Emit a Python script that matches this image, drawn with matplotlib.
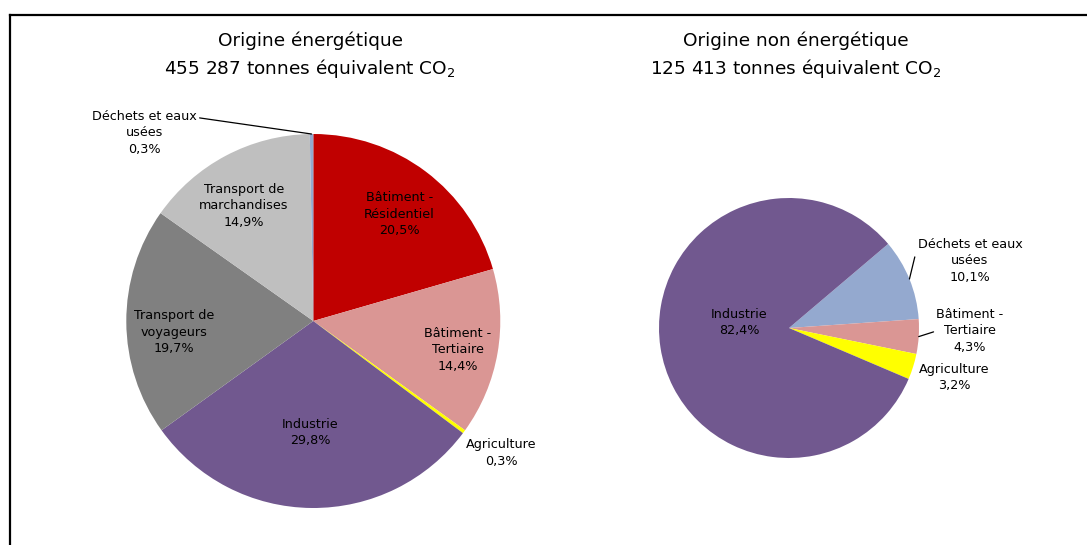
import numpy as np
import matplotlib.pyplot as plt
import matplotlib as mpl
from matplotlib.lines import Line2D

mpl.rcParams["font.family"] = ["DejaVu Sans"]
FONT_SMALL = 9.2
FONT_BIG = 13.3

# --- data -------------------------------------------------------------
energy_labels = [
    "Bâtiment -\nRésidentiel",
    "Bâtiment -\nTertiaire",
    "Agriculture",
    "Industrie",
    "Transport de\nvoyageurs",
    "Transport de\nmarchandises",
    "Déchets et eaux\nusées",
]
energy_share = [20.5, 14.4, 0.3, 29.8, 19.7, 14.9, 0.3]
energy_total = "455 287"

other_labels = [
    "Déchets et eaux\nusées",
    "Bâtiment -\nTertiaire",
    "Agriculture",
    "Industrie",
]
other_share = [10.1, 4.3, 3.2, 82.4]
other_total = "125 413"

colors = {
    "Bâtiment -\nRésidentiel": "#C00000",
    "Bâtiment -\nTertiaire": "#DA9694",
    "Agriculture": "#FFFF00",
    "Industrie": "#71588F",
    "Transport de\nvoyageurs": "#808080",
    "Transport de\nmarchandises": "#BFBFBF",
    "Déchets et eaux\nusées": "#94A9CF",
}

# label placement (pie radius units) and leader lines, per slice
energy_label_pos = [(0.46, 0.57), (0.772, -0.155), (1.007, -0.706), (-0.018, -0.597),
                    (-0.745, -0.059), (-0.371, 0.615), (-0.903, 1.007)]
energy_leader = {6: (1.0, 0.83)}
other_label_pos = [(1.392, 0.518), (1.392, -0.023), (1.27, -0.38), (-0.385, 0.041)]
other_leader = {0: (0.0, 0.83), 1: (0.0, 0.5)}

W, H = 1087, 545


def pct(v):
    return f"{v:.1f}".replace(".", ",") + "%"


def draw_pie(cx, cy, r, labels, values, startangle, label_pos, leaders):
    ax = fig.add_axes([(cx - r) / W, (H - cy - r) / H, 2 * r / W, 2 * r / H])
    wedges, _ = ax.pie(
        values,
        colors=[colors[l] for l in labels],
        startangle=startangle,
        counterclock=False,
        radius=1,
        wedgeprops={"linewidth": 0},
    )
    ax.set_xlim(-1, 1)
    ax.set_ylim(-1, 1)
    ax.set_aspect("equal")
    ax.axis("off")

    for i, (lab, val) in enumerate(zip(labels, values)):
        w = wedges[i]
        txt = lab + "\n" + pct(val)
        if i in leaders:
            mid = np.deg2rad((w.theta1 + w.theta2) / 2)
            ax.annotate(
                txt,
                xy=(np.cos(mid), np.sin(mid)),
                xytext=label_pos[i],
                ha="center",
                va="center",
                fontsize=FONT_SMALL,
                linespacing=1.35,
                annotation_clip=False,
                arrowprops=dict(arrowstyle="-", color="black", lw=0.9,
                                relpos=leaders[i], shrinkA=0, shrinkB=0),
            )
        else:
            ax.text(*label_pos[i], txt, ha="center", va="center",
                    fontsize=FONT_SMALL, linespacing=1.35)
    return ax


fig = plt.figure(figsize=(W / 100, H / 100), dpi=100)

draw_pie(313.3, 321, 187, energy_labels, energy_share, 90, energy_label_pos, energy_leader)
draw_pie(789, 328, 130, other_labels, other_share, 40.3, other_label_pos, other_leader)

# titles
fig.text(310 / W, 1 - 41 / H, "Origine énergétique", ha="center", va="center", fontsize=FONT_BIG)
fig.text(310 / W, 1 - 68 / H, energy_total + " tonnes équivalent CO$_2$",
         ha="center", va="center", fontsize=FONT_BIG)
fig.text(796 / W, 1 - 41 / H, "Origine non énergétique", ha="center", va="center", fontsize=FONT_BIG)
fig.text(796 / W, 1 - 68 / H, other_total + " tonnes équivalent CO$_2$",
         ha="center", va="center", fontsize=FONT_BIG)

# chart frame (left and top edges visible)
fig.add_artist(Line2D([10 / W, 10 / W], [0, 1 - 15 / H], color="black", lw=1.6,
                      transform=fig.transFigure))
fig.add_artist(Line2D([10 / W, 1], [1 - 15 / H, 1 - 15 / H], color="black", lw=1.6,
                      transform=fig.transFigure))

plt.savefig("out.png", dpi=100)
